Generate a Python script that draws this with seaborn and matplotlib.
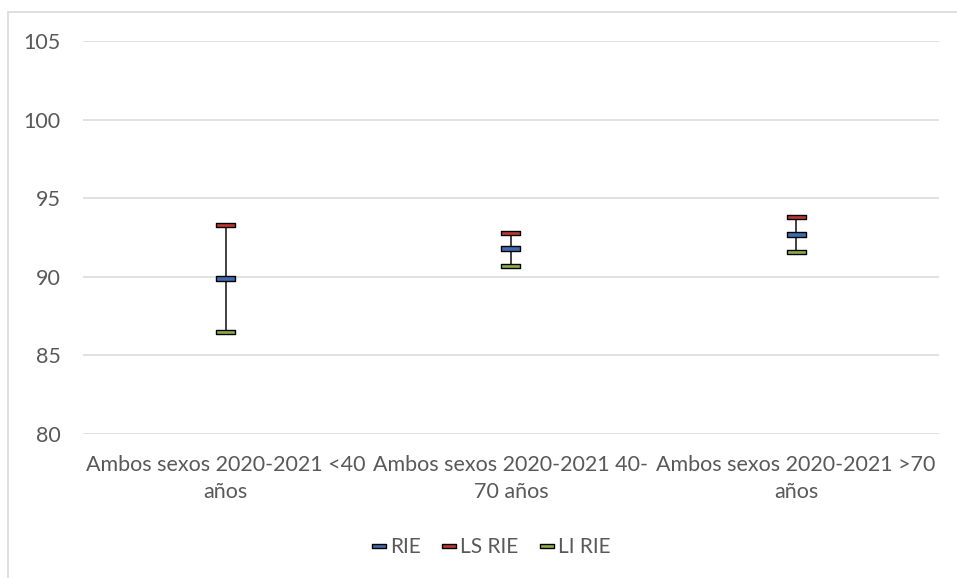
import matplotlib
matplotlib.use("Agg")
import matplotlib.pyplot as plt
import seaborn as sns
import pandas as pd
from matplotlib.path import Path
from matplotlib.patches import Rectangle
from matplotlib.lines import Line2D

categories = ["Ambos sexos 2020-2021 <40\naños",
              "Ambos sexos 2020-2021 40-\n70 años",
              "Ambos sexos 2020-2021 >70\naños"]
rie = [89.9, 91.8, 92.7]
ls_rie = [93.3, 92.8, 93.8]
li_rie = [86.5, 90.7, 91.6]
series_names = ["RIE", "LS RIE", "LI RIE"]
colors = ["#3F6BB0", "#C0392F", "#8DB04B"]
yticks = [80, 85, 90, 95, 100, 105]

sns.set_theme(style="white")
plt.rcParams['font.family'] = ['Lato', 'DejaVu Sans']

fig = plt.figure(figsize=(9.57, 5.78), dpi=100)
ax = fig.add_axes([0.0867, 0.249, 0.8943, 0.68])

# outer frame
fig.patches.append(Rectangle((8/957, -0.01), 1.2, 1 - 12/578 + 0.01, transform=fig.transFigure,
                             fill=False, edgecolor="#D9D9D9", linewidth=1.2))

x = list(range(len(categories)))
df = pd.DataFrame({
    "x": x * 3,
    "value": rie + ls_rie + li_rie,
    "series": [series_names[0]] * 3 + [series_names[1]] * 3 + [series_names[2]] * 3,
})

ax.vlines(x, li_rie, ls_rie, color="#333333", linewidth=1.3, zorder=2)

cap = Path([(-1, -0.22), (1, -0.22), (1, 0.22), (-1, 0.22), (-1, -0.22)],
           [Path.MOVETO, Path.LINETO, Path.LINETO, Path.LINETO, Path.CLOSEPOLY])

sns.scatterplot(data=df, x="x", y="value", hue="series", palette=dict(zip(series_names, colors)),
                marker=cap, s=190, edgecolor="black", linewidth=1.0, ax=ax, zorder=3, legend=False)

ax.set_xlim(-0.5, 2.5)
ax.set_ylim(80, 105)
ax.set_yticks(yticks)
ax.set_yticklabels([str(v) for v in yticks], fontsize=15.5, color="#595959")
ax.set_xticks(x)
ax.set_xticklabels(categories, fontsize=15.5, color="#595959", linespacing=1.42)
ax.tick_params(axis="both", length=0)
ax.tick_params(axis="y", pad=16)
ax.tick_params(axis="x", pad=15)
ax.set_xlabel("")
ax.set_ylabel("")
ax.grid(axis="y", color="#D9D9D9", linewidth=1.1)
ax.set_axisbelow(True)
for s in ax.spines.values():
    s.set_visible(False)

handles = [Line2D([0], [0], marker=cap, linestyle="none", markersize=10,
                  markerfacecolor=c, markeredgecolor="black", markeredgewidth=1.0)
           for c in colors]
fig.legend(handles, series_names, loc="center", bbox_to_anchor=(0.512, 1 - 547/578), ncol=3,
           frameon=False, fontsize=15, handletextpad=0.1, columnspacing=0.9,
           labelcolor="#595959", handlelength=0.9)

fig.savefig("out.png", dpi=100)
